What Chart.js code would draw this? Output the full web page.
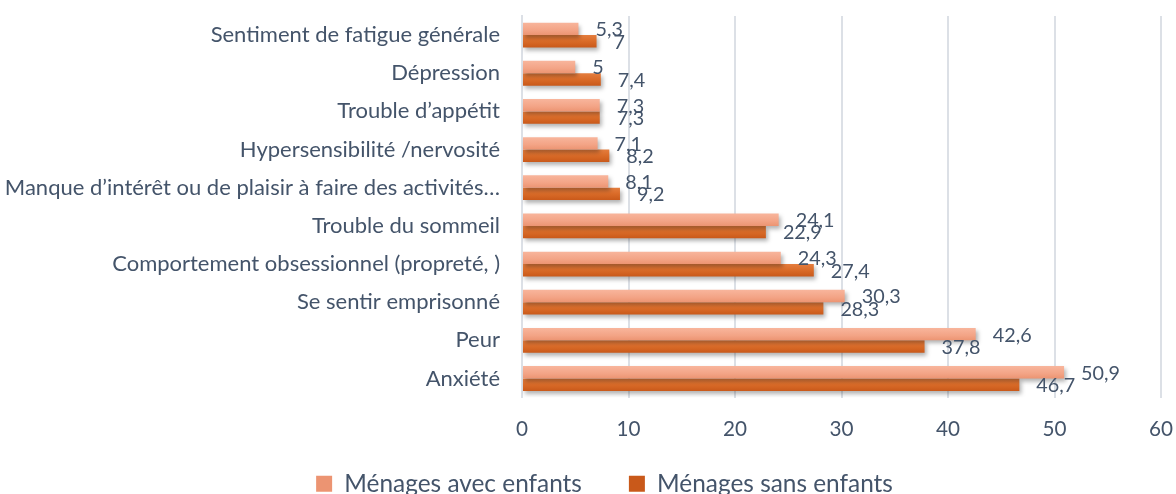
<!DOCTYPE html>
<html lang="fr">
<head>
<meta charset="utf-8">
<script src="https://cdn.jsdelivr.net/npm/chart.js@4.4.1/dist/chart.umd.min.js"></script>
<style>
  html, body { margin: 0; padding: 0; background: #fff; overflow: hidden; }
  #wrap { width: 1176px; height: 506px; }
</style>
</head>
<body>
<div id="wrap"><canvas id="chart"></canvas></div>
<script>
const categories = [
    "Sentiment de fatigue générale",
    "Dépression",
    "Trouble d’appétit",
    "Hypersensibilité /nervosité",
    "Manque d’intérêt ou de plaisir à faire des activités…",
    "Trouble du sommeil",
    "Comportement obsessionnel (propreté, )",
    "Se sentir emprisonné",
    "Peur",
    "Anxiété"
];
const seriesNames = ["Ménages avec enfants", "Ménages sans enfants"];
const avecEnfants = [5.3, 5, 7.3, 7.1, 8.1, 24.1, 24.3, 30.3, 42.6, 50.9];
const sansEnfants = [7, 7.4, 7.3, 8.2, 9.2, 22.9, 27.4, 28.3, 37.8, 46.7];
const xMin = 0, xMax = 60, xStep = 10;

const FAMILY = 'Lato, "Liberation Sans", sans-serif';
const TEXT = "#44546A";
const GRID = "#DCE0E6";

// font sizes picked so text widths match the reference
function fitSize(text, width) {
    const c = document.createElement("canvas").getContext("2d");
    c.font = "100px " + FAMILY;
    return Math.round(1000 * width / c.measureText(text).width) / 10;
}
const catSize = fitSize("Sentiment de fatigue générale", 289);
const tickSize = fitSize("10", 24);
const valueSize = fitSize("50,9", 39);
const legendSize = fitSize("Ménages avec enfants", 238);

function barGradient(stops, solid) {
    return (c) => {
        const el = c.element;
        if (!el || el.y == null || !el.height) return solid;
        const g = c.chart.ctx.createLinearGradient(0, el.y - el.height / 2, 0, el.y + el.height / 2);
        stops.forEach(([p, col]) => g.addColorStop(p, col));
        return g;
    };
}

const barShadow = {
    id: "barShadow",
    beforeDatasetsDraw(chart) {
        const ctx = chart.ctx;
        ctx.save();
        ctx.shadowColor = "rgba(0,0,0,0.3)";
        ctx.shadowBlur = 4;
        ctx.shadowOffsetX = 2;
        ctx.shadowOffsetY = 3;
    },
    afterDatasetsDraw(chart) {
        chart.ctx.restore();
    }
};

const valueLabels = {
    id: "valueLabels",
    afterDatasetsDraw(chart) {
        const ctx = chart.ctx;
        ctx.save();
        ctx.font = valueSize + "px " + FAMILY;
        ctx.fillStyle = TEXT;
        ctx.textAlign = "left";
        ctx.textBaseline = "middle";
        chart.data.datasets.forEach((ds, i) => {
            chart.getDatasetMeta(i).data.forEach((bar, j) => {
                ctx.fillText(String(ds.data[j]).replace(".", ","), bar.x + 17, bar.y + 1);
            });
        });
        ctx.restore();
    }
};

// legend sits a little right of centre in the original
const legendShift = {
    id: "legendShift",
    afterLayout(chart) {
        chart.legend.left += 24;
        chart.legend.right += 24;
    }
};

Chart.defaults.font.family = FAMILY;
Chart.defaults.color = TEXT;

const chart = new Chart(document.getElementById("chart"), {
    type: "bar",
    data: {
        labels: categories,
        datasets: [{
            label: seriesNames[0],
            data: avecEnfants,
            backgroundColor: barGradient([[0, "#F8B59C"], [0.6, "#F3A486"], [1, "#EC9472"]], "#F4A586"),
            categoryPercentage: 0.65,
            barPercentage: 1
        }, {
            label: seriesNames[1],
            data: sansEnfants,
            backgroundColor: barGradient([[0, "#E47D3E"], [0.5, "#DA6B28"], [1, "#C9591A"]], "#D9692B"),
            categoryPercentage: 0.65,
            barPercentage: 1
        }]
    },
    options: {
        indexAxis: "y",
        responsive: true,
        maintainAspectRatio: false,
        animation: false,
        layout: { padding: { left: 0, right: 15, top: 16, bottom: 0 } },
        scales: {
            x: {
                min: xMin,
                max: xMax,
                // mirrored so the labels are not clipped to the short axis box
                ticks: { stepSize: xStep, mirror: true, padding: -44, font: { size: tickSize } },
                grid: { color: GRID, lineWidth: 2, drawTicks: false },
                border: { display: false },
                afterFit: (s) => {
                    s.height = 27;
                    s.paddingLeft = 0;
                    s.paddingRight = 0;
                }
            },
            y: {
                ticks: { padding: 22, font: { size: catSize }, autoSkip: false },
                grid: { display: false, drawTicks: false },
                border: { display: true, color: GRID, width: 2 },
                afterFit: (s) => {
                    s.width = 522;
                    s.paddingTop = 0;
                    s.paddingBottom = 0;
                }
            }
        },
        plugins: {
            legend: {
                position: "bottom",
                labels: {
                    boxWidth: 16,
                    boxHeight: 16,
                    padding: 47,
                    font: { size: legendSize }
                }
            },
            tooltip: { enabled: false }
        }
    },
    plugins: [barShadow, valueLabels, legendShift]
});
chart.update("none");
</script>
</body>
</html>
